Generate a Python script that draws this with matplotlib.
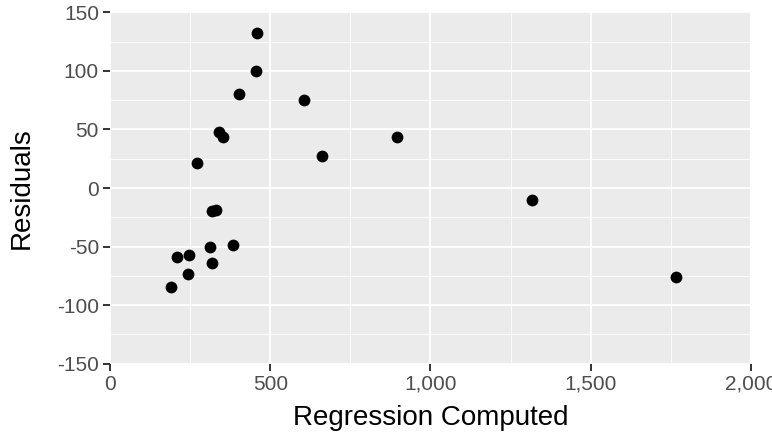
import matplotlib
matplotlib.use("Agg")
import matplotlib.pyplot as plt
from matplotlib.ticker import MultipleLocator, FuncFormatter

# values
regression_computed = [458, 456, 402, 606, 339, 353, 897, 662, 270, 318,
                       331, 383, 313, 247, 208, 319, 242, 190, 1316, 1766]
residuals = [132.6, 99.6, 80.0, 75.4, 47.6, 43.8, 43.8, 27.3, 21.6, -19.9,
             -19.0, -48.7, -50.1, -57.2, -58.9, -63.8, -73.2, -84.8, -10.0, -75.7]

x_ticks = [0, 500, 1000, 1500, 2000]
y_ticks = [-150, -100, -50, 0, 50, 100, 150]

plt.rcParams['font.family'] = ['Liberation Sans', 'DejaVu Sans']
plt.rcParams['axes.unicode_minus'] = False

fig = plt.figure(figsize=(7.72, 4.40), dpi=100)
ax = fig.add_axes([110 / 772, 1 - 363.7 / 440, 641 / 772, 351.4 / 440])

ax.set_facecolor('#EBEBEB')
for s in ax.spines.values():
    s.set_visible(False)

ax.scatter(regression_computed, residuals, s=72, color='black',
           linewidths=0, zorder=3)

ax.set_xlim(0, 2000)
ax.set_ylim(-150, 150)
ax.set_xticks(x_ticks)
ax.set_yticks(y_ticks)
ax.xaxis.set_minor_locator(MultipleLocator(250))
ax.yaxis.set_minor_locator(MultipleLocator(25))
ax.xaxis.set_major_formatter(FuncFormatter(lambda v, p: f"{int(v):,}"))

ax.grid(which='major', color='white', linewidth=1.3)
ax.grid(which='minor', color='white', linewidth=0.6)
ax.set_axisbelow(True)

ax.tick_params(which='major', length=5, width=1.4, color='#333333',
               labelcolor='#4D4D4D', labelsize=15, pad=3)
ax.tick_params(which='minor', length=0)

ax.set_xlabel("Regression Computed", fontsize=20)
ax.set_ylabel("Residuals", fontsize=20)
ax.xaxis.label.set_va('center')
ax.yaxis.label.set_va('center')
ax.xaxis.set_label_coords(0.5, (363.7 - 418) / 351.4)
ax.yaxis.set_label_coords((21.7 - 110) / 641, 0.5)

fig.savefig("out.png", dpi=100)
